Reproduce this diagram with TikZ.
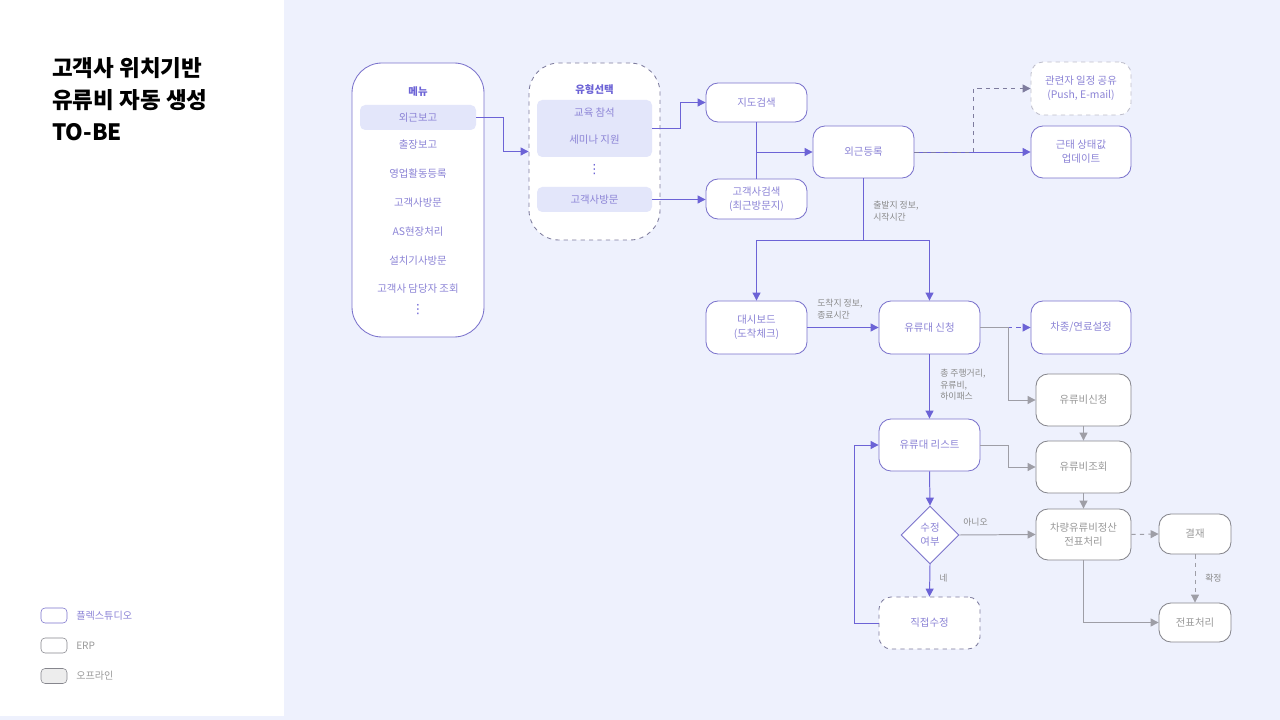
\documentclass[tikz,border=0pt]{standalone}
\usepackage{fontspec}
\setmainfont{Noto Sans CJK KR}
\newfontfamily\symfont{DejaVu Sans}
\usepackage{xcolor}
\usepackage{tikz}
\usetikzlibrary{shapes.geometric,arrows.meta}
\definecolor{BgRight}{HTML}{EEF1FD}
\definecolor{FlexLine}{HTML}{6C63D6}
\definecolor{FlexBorder}{HTML}{7B73CC}
\definecolor{FlexText}{HTML}{8C84D6}
\definecolor{GrayLine}{HTML}{9E9EA6}
\definecolor{GrayText}{HTML}{9A9A9A}
\definecolor{LabelText}{HTML}{8A8A8A}
\definecolor{HiFill}{HTML}{E3E6FA}
\definecolor{DashBorder}{HTML}{7E7C9E}
\definecolor{ShareBorder}{HTML}{BEBECB}

\tikzset{
	boxsize/.style 2 args={minimum width=#1*0.025cm, minimum height=#2*0.025cm},
	txt/.style={font=\fontsize{7.4}{10}\selectfont, align=center, inner sep=0pt},
	flexbox/.style={txt, draw=FlexBorder, fill=white, rounded corners=0.3cm, text=FlexText, line width=0.6pt},
	erpbox/.style={txt, draw=GrayLine!85!black, fill=white, rounded corners=0.3cm, text=GrayText, line width=0.6pt},
	hibox/.style={txt, fill=HiFill, rounded corners=0.13cm, text=FlexText},
	flow/.style={draw=FlexLine, line width=0.7pt, -{Triangle[length=0.2cm, width=0.2cm]}},
	gflow/.style={draw=GrayLine, line width=0.7pt, -{Triangle[length=0.2cm, width=0.2cm]}},
	lbl/.style={font=\fontsize{6.3}{8.3}\selectfont, align=left, anchor=west, text=LabelText, inner sep=0pt},
	dots/.style={txt, text=FlexLine, font=\symfont\fontsize{9}{10}\selectfont},
}

\begin{document}
\begin{tikzpicture}[x=0.025cm, y=-0.025cm]
				\useasboundingbox (0,0) rectangle (1280,720);
				\fill[BgRight] (284,0) rectangle (1280,720);
				\fill[BgRight] (0,716) rectangle (284,720);

				% title
				\node[anchor=west, align=left, font=\fontsize{16}{22.7}\selectfont\bfseries, inner sep=0pt] (title) at (52,99) {고객사 위치기반\\유류비 자동 생성\\TO-BE};

				% legend
				\node[draw=FlexBorder, fill=white, rounded corners=0.1cm, boxsize={26}{15}, inner sep=0pt] (legflex) at (54,615.5) {};
				\node[lbl, text=FlexText, font=\fontsize{7.2}{9}\selectfont] (legflext) at (76,615.5) {플렉스튜디오};
				\node[draw=GrayLine!85!black, fill=white, rounded corners=0.1cm, boxsize={26}{15}, inner sep=0pt] (legerp) at (54,645.5) {};
				\node[lbl, text=GrayText, font=\fontsize{7.2}{9}\selectfont] (legerpt) at (76,645.5) {ERP};
				\node[draw=GrayLine!85!black, fill=black!7, rounded corners=0.1cm, boxsize={26}{15}, inner sep=0pt] (legoff) at (54,676) {};
				\node[lbl, text=GrayText, font=\fontsize{7.2}{9}\selectfont] (legofft) at (76,676) {오프라인};

				% menu
				\node[flexbox, rounded corners=0.75cm, boxsize={132}{274}] (menu) at (418,200) {};
				\node[txt, text=FlexLine, font=\fontsize{7.4}{9}\selectfont\bfseries] (menut) at (418,92) {메뉴};
				\node[hibox, boxsize={116}{25}] (mout) at (418,117.5) {외근보고};
				\foreach \item/\yy [count=\i] in {출장보고/145, 영업활동등록/174, 고객사방문/203, AS현장처리/232, 설치기사방문/261, 고객사 담당자 조회/289} {
					\node[txt, text=FlexText] (m\i) at (418,\yy) {\item};
				}
				\node[dots] (mdots) at (418,310) {⋮};

				% type selection
				\node[txt, draw=DashBorder, dashed, fill=white, rounded corners=0.75cm, boxsize={131}{177}, line width=0.6pt] (types) at (594.5,151.5) {};
				\node[txt, text=FlexLine, font=\fontsize{7.4}{9}\selectfont\bfseries] (typest) at (594.5,90) {유형선택};
				\node[hibox, boxsize={115}{57}] (tedu) at (594.5,128.5) {};
				\node[txt, text=FlexText] (tedut) at (594.5,113) {교육 참석};
				\node[txt, text=FlexText] (tsem) at (594.5,140) {세미나 지원};
				\node[dots] (tdots) at (594.5,170) {⋮};
				\node[hibox, boxsize={115}{25}] (tvisit) at (594.5,199.5) {고객사방문};

				% flexstudio boxes
				\node[flexbox, boxsize={101}{39}] (map) at (756.5,102.5) {지도검색};
				\node[flexbox, boxsize={101}{40}] (cust) at (756.5,199) {고객사검색\\(최근방문지)};
				\node[flexbox, boxsize={101}{52}] (reg) at (863.5,152) {외근등록};
				\node[flexbox, draw=ShareBorder, dashed, boxsize={100}{53}] (share) at (1081,88.5) {관련자 일정 공유\\(Push, E-mail)};
				\node[flexbox, boxsize={100}{52}] (att) at (1081,152) {근태 상태값\\업데이트};
				\node[flexbox, boxsize={101}{53}] (dash) at (756.5,327.5) {대시보드\\(도착체크)};
				\node[flexbox, boxsize={101}{53}] (apply) at (929.5,327.5) {유류대 신청};
				\node[flexbox, boxsize={100}{53}] (car) at (1081,327.5) {차종/연료설정};
				\node[flexbox, boxsize={101}{52}] (list) at (929.5,445) {유류대 리스트};
				\node[txt, diamond, draw=FlexBorder, fill=white, text=FlexText, minimum width=58*0.025cm, minimum height=58*0.025cm, line width=0.6pt] (check) at (930,535) {수정\\여부};
				\node[flexbox, draw=DashBorder, dashed, boxsize={101}{52}] (edit) at (929.5,623) {직접수정};

				% erp boxes
				\node[erpbox, boxsize={95}{52}] (feereq) at (1083.5,400) {유류비신청};
				\node[erpbox, boxsize={95}{52}] (feeview) at (1083.5,467) {유류비조회};
				\node[erpbox, boxsize={95}{51}] (settle) at (1083.5,534.5) {차량유류비정산\\전표처리};
				\node[erpbox, boxsize={72}{40}] (approve) at (1195,534) {결재};
				\node[erpbox, boxsize={72}{39}] (slip) at (1195,622.5) {전표처리};

				% connectors
				\draw[flow] (mout.east) -- ++(27,0) |- (types.west);
				\draw[flow] (tedu.east) -- ++(28,0) |- (map.west);
				\draw[flow] (tvisit.east) -- (tvisit.east -| cust.west);
				\draw[draw=FlexLine, line width=0.7pt] (map.south) -- (cust.north);
				\draw[flow] (map.south |- reg.west) -- (reg.west);
				\draw[flow] (reg.east) -- (att.west);
				\draw[flow, draw=DashBorder, dashed] (reg.east) -- ++(59,0) |- (share.west);
				\coordinate (split) at (863.5,240);
				\draw[draw=FlexLine, line width=0.7pt] (reg.south) -- (split);
				\draw[flow] (split) -| (dash.north);
				\draw[flow] (split) -| (apply.north);
				\node[lbl] (lstart) at (873,211) {출발지 정보,\\시작시간};
				\draw[flow] (dash.east) -- (apply.west);
				\node[lbl] (larrive) at (817,309) {도착지 정보,\\종료시간};
				\coordinate (fork) at (1008,327.5);
				\draw[draw=GrayLine, line width=0.7pt] (apply.east) -- (fork);
				\draw[flow, dashed] (fork) -- (car.west);
				\draw[gflow] (fork) |- (feereq.west);
				\draw[flow] (apply.south) -- (list.north);
				\node[lbl] (ltotal) at (940,385) {총 주행거리,\\유류비,\\하이패스};
				\draw[gflow] (list.east) -- ++(28,0) |- (feeview.west);
				\draw[gflow] (feereq.south) -- (feeview.north);
				\draw[gflow] (feeview.south) -- (settle.north);
				\draw[flow] (list.south) -- (check.north);
				\draw[gflow] (check.east) -- (settle.west);
				\node[lbl] (lno) at (963,522) {아니오};
				\draw[flow] (check.south) -- (edit.north);
				\node[lbl] (lyes) at (939,578) {네};
				\draw[flow] (edit.west) -- ++(-24,0) |- (list.west);
				\draw[gflow, dashed] (settle.east) -- (approve.west);
				\draw[gflow, dashed] (approve.south) -- (slip.north);
				\node[lbl] (lconfirm) at (1205,578) {확정};
				\draw[gflow] (settle.south) |- (slip.west);
			\end{tikzpicture}
\end{document}
